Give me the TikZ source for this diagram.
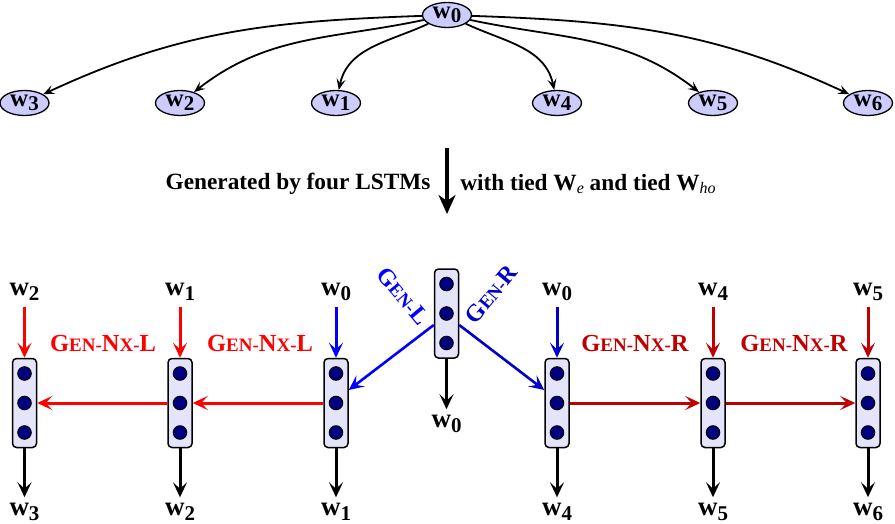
\documentclass[tikz,border=0pt]{standalone}
\usepackage{fontspec}
\setmainfont{Liberation Serif}
\usetikzlibrary{arrows.meta,calc,shapes.geometric}
\definecolor{ellfill}{RGB}{204,204,255}
\definecolor{boxfill}{RGB}{228,228,250}
\definecolor{navy}{RGB}{0,0,128}
\definecolor{lred}{RGB}{255,0,0}
\definecolor{dred}{RGB}{192,0,0}
\definecolor{lblue}{RGB}{0,0,255}
\definecolor{dblue}{RGB}{0,0,200}
\newcommand\wl[1]{{\fontsize{27}{27}\selectfont w}\raisebox{-5pt}{\fontsize{21}{21}\selectfont #1}}
\newcommand\wt[1]{{\fontsize{25}{25}\selectfont w}\raisebox{-4pt}{\fontsize{21}{21}\selectfont #1}}
\newcommand\Lg{\fontsize{24.5}{24.5}\selectfont}
\newcommand\Sm{\fontsize{19}{19}\selectfont}
\newcommand\Lgg{\fontsize{24}{24}\selectfont}
\newcommand\Smm{\fontsize{18.5}{18.5}\selectfont}
\begin{document}
\begin{tikzpicture}[x=1pt,y=1pt,font=\bfseries,
  tnode/.style={ellipse,draw,line width=1.3pt,fill=ellfill,minimum width=49pt,minimum height=25pt,inner sep=0pt},
  tarrow/.style={line width=1.8pt,-{Stealth[length=11pt,width=9pt,inset=4.5pt]}},
  lstm/.style={draw,rounded corners=4pt,fill=boxfill,minimum width=24pt,minimum height=89pt,line width=1.5pt,inner sep=0pt},
  dotc/.style={circle,draw,fill=navy,minimum size=13.5pt,inner sep=0pt,line width=1pt},
  varr/.style={line width=3pt,-{Stealth[length=15pt,width=14pt,inset=6.5pt]}},
  bigarr/.style={line width=4.5pt,-{Stealth[length=19pt,width=17pt,inset=6pt]}},
  lab/.style={inner sep=0pt,outer sep=6pt},
  glab/.style={inner sep=0pt}
]
\useasboundingbox (0,0) rectangle (895,-524);

% ---- top tree ----
\node[tnode] (t0) at (447,-15) {\wt{0}};
\node[tnode] (t3) at (24.5,-103) {\wt{3}};
\node[tnode] (t2) at (180,-103) {\wt{2}};
\node[tnode] (t1) at (336,-103) {\wt{1}};
\node[tnode] (t4) at (557,-103) {\wt{4}};
\node[tnode] (t5) at (713,-103) {\wt{5}};
\node[tnode] (t6) at (868,-103) {\wt{6}};
\draw[tarrow] (t0) to[out=182,in=25] (t3);
\draw[tarrow] (t0) to[out=192,in=38] (t2);
\draw[tarrow] (t0) to[out=205,in=78] (t1);
\draw[tarrow] (t0) to[out=-25,in=102] (t4);
\draw[tarrow] (t0) to[out=-12,in=142] (t5);
\draw[tarrow] (t0) to[out=-2,in=155] (t6);

% ---- middle ----
\node[glab,font=\bfseries\fontsize{23.3}{23.3}\selectfont] (gen) at (298,-184) {Generated by four LSTMs};
\node[glab,font=\bfseries\fontsize{23.3}{23.3}\selectfont] (tied) at (588,-184) {with tied W\raisebox{-3pt}{\fontsize{16}{16}\selectfont\mdseries\itshape e} and tied W\raisebox{-3pt}{\fontsize{16}{16}\selectfont\mdseries\itshape ho}};
\coordinate (as) at (447,-148);
\coordinate (ae) at (447,-214);
\draw[bigarr] (as) -- (ae);

% ---- LSTM boxes ----
\foreach \n/\x/\y in {b1/24.5/-403, b2/180/-403, b3/336/-403, b0/446.5/-313.5, b4/557/-403, b5/713/-403, b6/868/-403}{
  \node[lstm] (\n) at (\x,\y) {};
  \node[dotc] (\n a) at (\x,\y+29.5) {};
  \node[dotc] (\n b) at (\x,\y) {};
  \node[dotc] (\n c) at (\x,\y-29.5) {};
}

% input labels
\node[lab] (i1) at (24.5,-292) {\wl{2}};
\node[lab] (i2) at (180,-292) {\wl{1}};
\node[lab] (i3) at (336,-292) {\wl{0}};
\node[lab] (i4) at (557,-292) {\wl{0}};
\node[lab] (i5) at (713,-292) {\wl{4}};
\node[lab] (i6) at (868,-292) {\wl{5}};
% output labels
\node[lab] (o1) at (24.5,-512) {\wl{3}};
\node[lab] (o2) at (180,-512) {\wl{2}};
\node[lab] (o3) at (336,-512) {\wl{1}};
\node[lab] (o0) at (446.5,-424) {\wl{0}};
\node[lab] (o4) at (557,-512) {\wl{4}};
\node[lab] (o5) at (713,-512) {\wl{5}};
\node[lab] (o6) at (868,-512) {\wl{6}};

% input arrows
\draw[varr,lred] (i1) -- (b1);
\draw[varr,lred] (i2) -- (b2);
\draw[varr,lblue] (i3) -- (b3);
\draw[varr,dblue] (i4) -- (b4);
\draw[varr,dred] (i5) -- (b5);
\draw[varr,dred] (i6) -- (b6);
% output arrows
\foreach \k in {1,2,3,0,4,5,6}{
  \draw[varr,black] (b\k) -- (o\k);
}
% horizontal arrows
\draw[varr,lred] (b3.west) -- (b2.east);
\draw[varr,lred] (b2.west) -- (b1.east);
\draw[varr,dred] (b4.east) -- (b5.west);
\draw[varr,dred] (b5.east) -- (b6.west);
% diagonal arrows
\coordinate (gls) at ($(b0.west)+(0,-11.5)$);
\coordinate (gle) at ($(b3.east)+(0,13)$);
\coordinate (grs) at ($(b0.east)+(0,-11.5)$);
\coordinate (gre) at ($(b4.west)+(0,13)$);
\draw[varr,lblue,line width=2.6pt] (gls) -- (gle);
\draw[varr,dblue,line width=2.6pt] (grs) -- (gre);

% labels
\node[glab,text=lred] (l1) at (103,-344) {\Lg G\Sm EN-\Lg N\Sm X-\Lg L};
\node[glab,text=lred] (l2) at (260,-344) {\Lg G\Sm EN-\Lg N\Sm X-\Lg L};
\node[glab,text=dred] (r1) at (635,-344) {\Lg G\Sm EN-\Lg N\Sm X-\Lg R};
\node[glab,text=dred] (r2) at (794,-344) {\Lg G\Sm EN-\Lg N\Sm X-\Lg R};
\node[glab,text=lblue,rotate=-50] (gl) at (403,-296) {\Lgg G\Smm EN-\Lgg L};
\node[glab,text=dblue,rotate=50] (gr) at (491,-294) {\Lgg G\Smm EN-\Lgg R};
\end{tikzpicture}
\end{document}
